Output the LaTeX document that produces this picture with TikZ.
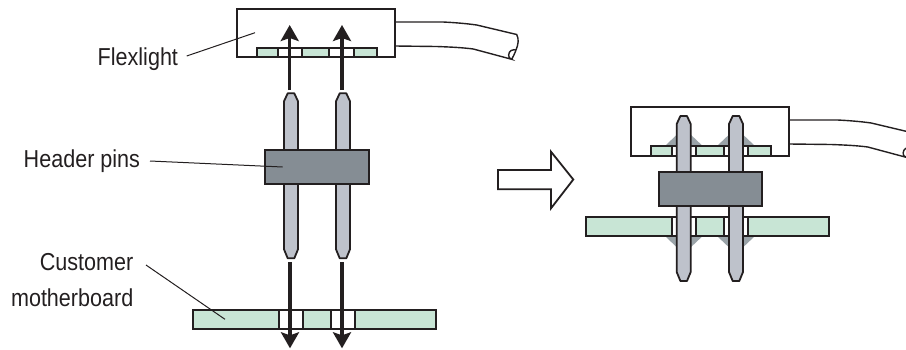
\documentclass[tikz,border=0pt]{standalone}
\usepackage{fontspec}
\setmainfont[FakeStretch=0.88]{Liberation Sans}
\usetikzlibrary{arrows.meta}
\definecolor{ink}{HTML}{231F20}
\definecolor{boardgreen}{HTML}{C8E5D5}
\definecolor{pingrey}{HTML}{BEC2CB}
\definecolor{blockgrey}{HTML}{858D94}
\definecolor{soldergrey}{HTML}{9AA3A8}
\tikzset{
  outline/.style={draw=ink,line width=1.8pt,line join=miter},
  thinout/.style={draw=ink,line width=1.4pt},
  greenbar/.style={outline,fill=boardgreen},
  holebar/.style={outline,fill=white},
  blockbar/.style={outline,fill=blockgrey},
  pinshape/.style={outline,fill=pingrey,line join=round},
  bigarrow/.style={draw=ink,line width=3.4pt,-{Stealth[length=16pt,width=18pt,inset=3pt]}},
  leader/.style={draw=ink,line width=1pt},
  caption/.style={inner sep=0pt,outer sep=0pt,font=\fontsize{24.5pt}{27pt}\selectfont,text=ink}
}
% named rectangle from (x1,y1) to (x2,y2)
\newcommand{\boxnode}[6]{%
  \pgfmathsetmacro{\bw}{#5-#3}\pgfmathsetmacro{\bh}{#6-#4}%
  \pgfmathsetmacro{\bx}{(#3+#5)/2}\pgfmathsetmacro{\by}{(#4+#6)/2}%
  \node[#2,rectangle,inner sep=0pt,outer sep=0pt,minimum width=\bw pt,minimum height=\bh pt] (#1) at (\bx,\by) {};}
% pin: centre, top, bottom
\newcommand{\pinat}[3]{%
  \draw[pinshape] ({#1-7},{#2+8}) -- ({#1-3.3},#2) -- ({#1+3.3},#2) -- ({#1+7},{#2+8})
    -- ({#1+7},{#3-9}) -- ({#1+3.3},#3) -- ({#1-3.3},#3) -- ({#1-7},{#3-9}) -- cycle;}
% cable, shifted
\newcommand{\cableat}[2]{%
  \begin{scope}[xshift=#1pt,yshift=#2pt]
  \draw[thinout] (395,22) -- (443,22) .. controls (455,22.6) and (466,23.5) .. (476.7,25) -- (516.7,34.5)
     .. controls (519,39) and (518.5,44) .. (516,50) .. controls (514.5,54) and (513,57) .. (511.7,59.3);
  \draw[thinout] (395,46) -- (436.7,46.5) .. controls (450,47) and (462,47.5) .. (473.3,49) -- (511.7,59.3)
     .. controls (507,58) and (508.5,52) .. (511,50.5) .. controls (513.5,49) and (515,50) .. (516,50);
  \end{scope}}
\begin{document}
\begin{tikzpicture}[x=1pt,y=-1pt]
\useasboundingbox (0,0) rectangle (906,349);
\clip (0,0) rectangle (906,349);

% ---------- left: exploded ----------
\boxnode{flexL}{outline,fill=white}{236.7}{9}{395}{57.3}
\cableat{0}{0}
\boxnode{stripLa}{greenbar}{257.3}{48.3}{376.7}{57.3}
\boxnode{stripLh1}{holebar}{277.7}{48.3}{301.7}{57.3}
\boxnode{stripLh2}{holebar}{329.3}{48.3}{354}{57.3}

\pinat{291}{93.3}{258.3}
\pinat{343}{93.3}{258.3}
\boxnode{blockL}{blockbar}{265.3}{150}{368.7}{183.7}

\boxnode{boardL}{greenbar}{192.7}{310}{435.7}{329}
\boxnode{boardLh1}{holebar}{278.7}{310}{303.3}{329}
\boxnode{boardLh2}{holebar}{330.7}{310}{355.3}{329}

\coordinate (upAs) at (289.7,90);   \coordinate (upAe) at (289.7,25);
\coordinate (upBs) at (342,90);     \coordinate (upBe) at (342,25);
\coordinate (dnAs) at (290,262.3);  \coordinate (dnAe) at (290,348.3);
\coordinate (dnBs) at (342,262.3);  \coordinate (dnBe) at (342,348.3);
\draw[bigarrow] (upAs) -- (upAe);
\draw[bigarrow] (upBs) -- (upBe);
\draw[bigarrow] (dnAs) -- (dnAe);
\draw[bigarrow] (dnBs) -- (dnBe);

% ---------- middle arrow ----------
\draw[outline,fill=white] (498,170) -- (551,170) -- (551,151.7) -- (573.3,179.5)
   -- (551,208.3) -- (551,189.3) -- (498,189.3) -- cycle;

% ---------- right: assembled ----------
\boxnode{flexR}{outline,fill=white}{630.7}{107.3}{789.3}{156}
\cableat{394.5}{-98}
\path[fill=soldergrey] (665,146) -- (683.7,128) -- (702.7,146) -- cycle;
\path[fill=soldergrey] (717,146) -- (736,128) -- (755,146) -- cycle;
\path[fill=soldergrey] (665,236) -- (683.7,254) -- (702.7,236) -- cycle;
\path[fill=soldergrey] (717,236) -- (736,254) -- (755,236) -- cycle;
\boxnode{stripRa}{greenbar}{651}{146}{771}{156}
\boxnode{stripRh1}{holebar}{671.7}{146}{695.7}{156}
\boxnode{stripRh2}{holebar}{724}{146}{748}{156}
\boxnode{boardR}{greenbar}{586}{217}{828.7}{236}
\boxnode{boardRh1}{holebar}{671.7}{217}{695.7}{236}
\boxnode{boardRh2}{holebar}{724}{217}{748}{236}
\pinat{683.7}{116}{281}
\pinat{736}{116}{281}
\boxnode{blockR}{blockbar}{658.7}{172.3}{761.7}{206.3}

% ---------- labels ----------
\node[caption,anchor=base east] (lblFlex) at (178,65) {Flexlight};
\node[caption,anchor=base east] (lblPins) at (140,167.7) {Header pins};
\node[caption,anchor=base east] (lblCust) at (133.3,270) {Customer};
\node[caption,anchor=base east] (lblMoth) at (133.3,306.7) {motherboard};

\coordinate (ldFlexA) at (186.7,56);  \coordinate (ldFlexB) at (255,32.7);
\coordinate (ldPinsA) at (150,161);   \coordinate (ldPinsB) at (282.7,167);
\coordinate (ldCustA) at (146,265);   \coordinate (ldCustB) at (225,319.3);
\draw[leader] (ldFlexA) -- (ldFlexB);
\draw[leader] (ldPinsA) -- (ldPinsB);
\draw[leader] (ldCustA) -- (ldCustB);
\end{tikzpicture}
\end{document}
